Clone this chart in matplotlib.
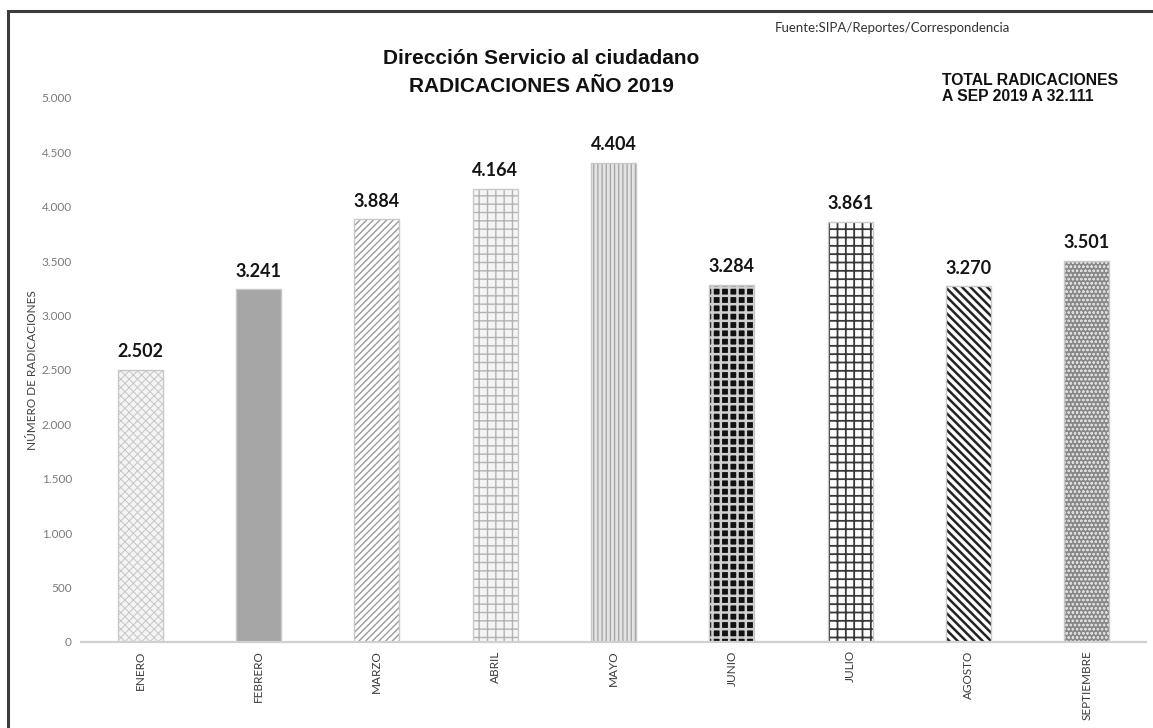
import matplotlib
matplotlib.use("Agg")
import matplotlib.pyplot as plt
from matplotlib.patches import Rectangle

# datos
meses = ["ENERO", "FEBRERO", "MARZO", "ABRIL", "MAYO",
         "JUNIO", "JULIO", "AGOSTO", "SEPTIEMBRE"]
radicaciones = [2502, 3241, 3884, 4164, 4404, 3284, 3861, 3270, 3501]
ticks_y = [0, 500, 1000, 1500, 2000, 2500, 3000, 3500, 4000, 4500, 5000]

titulo_1 = "Dirección Servicio al ciudadano"
titulo_2 = "RADICACIONES AÑO 2019"
fuente = "Fuente:SIPA/Reportes/Correspondencia"
total = "TOTAL RADICACIONES\nA SEP 2019 A 32.111"
eje_y = "NÚMERO DE RADICACIONES"

# relleno, color de trama, trama, grosor de trama (una por mes)
estilos = [
    ("#f4f4f4", "#c6c6c6", "xxxx", 0.7),
    ("#a6a6a6", "#9c9c9c", "", 0.8),
    ("white", "#9a9a9a", "/////", 1.0),
    ("#f4f4f4", "#b2b2b2", "++", 1.0),
    ("#e4e4e4", "#a2a2a2", "||||", 0.9),
    ("#111111", "#d0d0d0", "++", 1.8),
    ("white", "#383838", "++", 1.3),
    ("white", "#222222", "\\\\\\\\", 1.8),
    ("#888888", "#dcdcdc", "oooo", 0.6),
]

CALIBRI = ["Lato", "DejaVu Sans"]
ARIAL = ["Liberation Sans", "DejaVu Sans"]

W, H = 1153, 728
fig = plt.figure(figsize=(W / 100, H / 100), dpi=100)
fig.patch.set_facecolor("white")

ax = fig.add_axes([81 / W, 1 - 642 / H, (1146 - 81) / W, (642 - 98) / H])
x = list(range(len(meses)))
ancho = 0.38

for i, (fc, hc, hatch, hlw) in enumerate(estilos):
    with plt.rc_context({"hatch.linewidth": hlw}):
        b = ax.bar(x[i], radicaciones[i], width=ancho, color=fc,
                   edgecolor=hc, hatch=hatch, linewidth=0)
        for p in b:
            if hasattr(p, "set_hatch_linewidth"):
                p.set_hatch_linewidth(hlw)
# contorno claro de cada barra
ax.bar(x, radicaciones, width=ancho, fill=False, edgecolor="#c8c8c8",
       linewidth=1.0)

for xi, v in zip(x, radicaciones):
    etiqueta = f"{v:,}".replace(",", ".")
    ax.annotate(etiqueta, (xi, v), xytext=(0, 7), textcoords="offset points",
                ha="center", va="bottom", fontsize=13, fontweight="bold",
                family=CALIBRI, color="#141414")

ax.set_xlim(-0.5, len(meses) - 0.5)
ax.set_ylim(0, 5000)
ax.set_yticks(ticks_y)
ax.set_yticklabels([f"{t:,}".replace(",", ".") for t in ticks_y],
                   family=CALIBRI, fontsize=8.5, color="#7a7a7a")
ax.set_xticks(x)
ax.set_xticklabels(meses, rotation=90, family=CALIBRI, fontsize=8.5,
                   color="#3a3a3a", va="top")
ax.tick_params(axis="y", length=0, pad=6.5)
ax.tick_params(axis="x", length=0, pad=6)
for s in ["top", "right", "left"]:
    ax.spines[s].set_visible(False)
ax.spines["bottom"].set_color("#d0d0d0")
ax.spines["bottom"].set_linewidth(1.6)

fig.text(33 / W, 1 - 370 / H, eje_y, rotation=90, ha="center", va="center",
         family=CALIBRI, fontsize=8.5, color="#404040")

fig.text(541 / W, 1 - 58 / H, titulo_1, ha="center", va="center",
         family=ARIAL, fontsize=15, fontweight="bold", color="#111111")
fig.text(541 / W, 1 - 87 / H, titulo_2, ha="center", va="center",
         family=ARIAL, fontsize=15, fontweight="bold", color="#111111")
fig.text(775 / W, 1 - 28 / H, fuente, ha="left", va="center",
         family=CALIBRI, fontsize=9.5, color="#333333")
fig.text(942 / W, 1 - 88.5 / H, total, ha="left", va="center",
         family=ARIAL, fontsize=11.3, fontweight="bold", color="#111111",
         linespacing=1.05)

# marco exterior (solo izquierda y arriba visibles)
marco = Rectangle((8 / W, -0.1), 1.5, (1 - 11.5 / H) + 0.1,
                  transform=fig.transFigure, fill=False,
                  edgecolor="#3c3c3c", linewidth=2.2)
fig.add_artist(marco)

fig.savefig("out.png", dpi=100)
